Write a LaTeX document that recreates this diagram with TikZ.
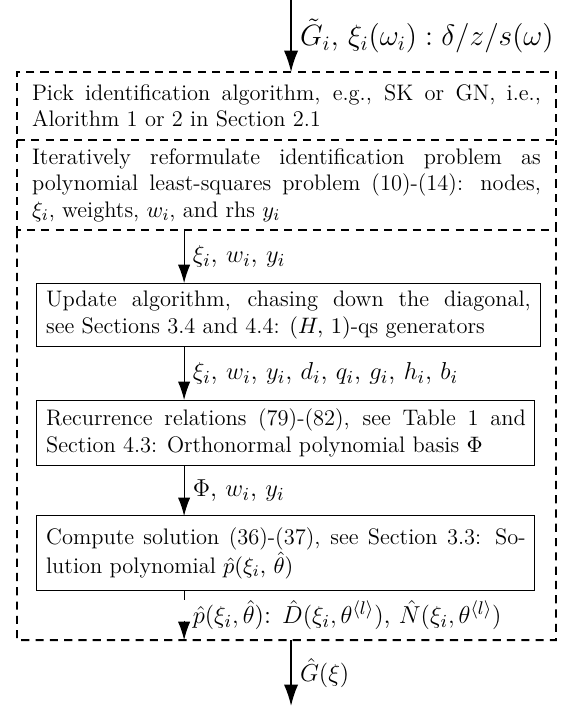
\documentclass[tikz,border=0pt]{standalone}
\usetikzlibrary{arrows.meta,positioning}
\hbadness=10000
\begin{document}
\begin{tikzpicture}[
    every node/.style={font=\fontsize{11}{13}\selectfont},
    section/.style={outer sep=0pt, inner xsep=7.4pt, text width=249.3pt, align=justify, anchor=north west},
    dashline/.style={line width=0.9pt, dash pattern=on 4pt off 3pt},
    stage/.style={draw, line width=0.5pt, outer sep=0pt, inner xsep=4.5pt, align=justify, anchor=north west},
    flow/.style={-{Latex[length=9pt,width=6pt]}, line width=0.5pt},
    bigflow/.style={-{Latex[length=10.5pt,width=7pt]}, line width=0.8pt},
    lbl/.style={right, font=\fontsize{12.6}{15}\selectfont, inner xsep=4pt},
    toplbl/.style={lbl, font=\fontsize{14.2}{17}\selectfont}
]
\useasboundingbox (0pt,0pt) rectangle (275.9pt,-345.9pt);
% outer, dashed part
\node[section, draw, dashline, minimum height=33.3pt] (pick) at (8.3pt,-35.3pt)
    {Pick identification algorithm, e.g., SK or GN, i.e.,\linebreak Alorithm 1 or 2 in Section 2.1};
\node[section, minimum height=44.1pt, below=0pt of pick] (reform)
    {Iteratively reformulate identification problem as\linebreak polynomial least-squares problem (10)-(14): nodes,\linebreak $\xi_i$, weights, $w_i$, and rhs $y_i$};
\draw[dashline] (pick.south west) -- (reform.south west) -- (reform.south east) -- (pick.south east);
\coordinate (loopsw) at (8.3pt,-313.6pt);
\coordinate (loopse) at (272.4pt,-313.6pt);
\draw[dashline] (reform.south west) -- (loopsw) -- (loopse) -- (reform.south east);
% inner stages
\node[stage, text width=237.5pt, minimum height=31.3pt] (update) at (18.1pt,-138.7pt)
    {Update algorithm, chasing down the diagonal,\linebreak see Sections 3.4 and 4.4: $(H,\,1)$-qs generators};
\node[stage, text width=235pt, minimum height=31.9pt] (recur) at (18.1pt,-196pt)
    {Recurrence relations (79)-(82), see Table 1 and\linebreak Section 4.3: Orthonormal polynomial basis $\Phi$};
\node[stage, text width=235pt, minimum height=36.3pt] (solve) at (18.1pt,-252.8pt)
    {Compute solution (36)-(37), see Section 3.3: So-\linebreak lution polynomial $\hat{p}(\xi_i,\,\hat{\theta})$};
% connectors
\coordinate (tap) at (90.2pt,0pt);
\coordinate (input) at (142.6pt,0pt);
\coordinate (output) at (142.6pt,-345.9pt);
\draw[bigflow] (input) -- (input |- pick.north)
    node[toplbl, midway] {$\tilde{G}_i$, $\xi_i(\omega_i) : \delta/z/s(\omega)$};
\draw[flow] (tap |- reform.south) -- (tap |- update.north)
    node[lbl, midway] {$\xi_i$, $w_i$, $y_i$};
\draw[flow] (tap |- update.south) -- (tap |- recur.north)
    node[lbl, midway] {$\xi_i$, $w_i$, $y_i$, $d_i$, $q_i$, $g_i$, $h_i$, $b_i$};
\draw[flow] (tap |- recur.south) -- (tap |- solve.north)
    node[lbl, midway] {$\Phi$, $w_i$, $y_i$};
\draw[flow, dash pattern=on 5pt off 10pt] (tap |- solve.south) -- (tap |- loopsw)
    node[lbl, midway] {$\hat{p}(\xi_i,\hat{\theta})$: $\hat{D}(\xi_i,\theta^{\langle l\rangle})$, $\hat{N}(\xi_i,\theta^{\langle l\rangle})$};
\draw[bigflow] (output |- loopsw) -- (output)
    node[lbl, midway] {$\hat{G}(\xi)$};
\end{tikzpicture}
\end{document}
